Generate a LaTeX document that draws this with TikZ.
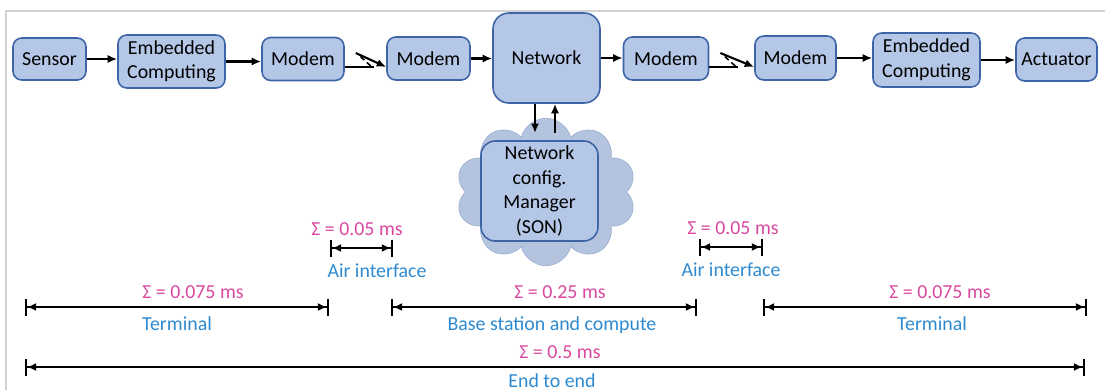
\documentclass[tikz,border=0pt]{standalone}
\usepackage{fontspec}
\setmainfont{Carlito}
\usepackage{tikz}
\usetikzlibrary{positioning, arrows.meta, shapes.symbols, calc}

\definecolor{BoxFill}{HTML}{B4C7E7}
\definecolor{BoxLine}{HTML}{3E64A8}
\definecolor{CloudFill}{HTML}{B5C4DE}
\definecolor{CloudLine}{HTML}{9EB2D4}
\definecolor{SumPink}{HTML}{D9479E}
\definecolor{WhatBlue}{HTML}{2E8AD0}

\begin{document}
\begin{tikzpicture}[
  x = 0.02cm, y = -0.02cm,
  font = \fontsize{11.3}{14}\selectfont,
  block/.style = {
    draw = BoxLine,
    fill = BoxFill,
    line width = 0.9pt,
    rounded corners = 5pt,
    align = center,
    inner sep = 2pt
  },
  link/.style = {
    -{Latex[length=1.9mm, width=1.6mm]},
    line width = 1.2pt
  },
  wire/.style = {
    line width = 1.2pt
  },
  dim/.style = {
    {Bar[width=3.4mm]Latex[length=1.8mm, width=1.6mm, sep=0pt]}-{Latex[length=1.8mm, width=1.6mm, sep=0pt]Bar[width=3.4mm]},
    line width = 1.2pt
  },
  sum/.style = {
    text = SumPink
  },
  what/.style = {
    text = WhatBlue
  },
  ]
  \useasboundingbox (0, 0) rectangle (1105, 390);

  % Frame.
  \draw[gray!35, line width = 0.9pt] (6, 390) -- (6, 11) -- (1105, 11);

  % Blocks of the chain.
  \node[block, minimum width = 1.46cm, minimum height = 0.84cm] (sen) at (49.5, 59) {Sensor};
  \node[block, minimum width = 2.14cm, minimum height = 1.06cm] (emb1) at (171.5, 61.5) {Embedded\\Computing};
  \node[block, minimum width = 1.64cm, minimum height = 0.86cm] (m1) at (303, 59) {Modem};
  \node[block, minimum width = 1.66cm, minimum height = 0.86cm] (m2) at (428.5, 58.5) {Modem};
  \node[block, minimum width = 2.14cm, minimum height = 1.8cm, rounded corners = 9pt] (net) at (546.5, 58) {Network};
  \node[block, minimum width = 1.7cm, minimum height = 0.86cm] (m3) at (666, 58.5) {Modem};
  \node[block, minimum width = 1.62cm, minimum height = 0.88cm] (m4) at (795.5, 58) {Modem};
  \node[block, minimum width = 2.14cm, minimum height = 1.08cm] (emb2) at (926.5, 60) {Embedded\\Computing};
  \node[block, minimum width = 1.62cm, minimum height = 0.86cm] (act) at (1056.5, 59.5) {Actuator};

  % Self-organising network manager.
  \node[cloud, cloud puffs = 10, aspect = 1.25, draw = CloudLine, fill = CloudFill,
    minimum width = 3.6cm, minimum height = 2.95cm] (cld) at (546, 192) {};
  \node[block, minimum width = 2.34cm, minimum height = 2cm, rounded corners = 8pt] (son) at (539.5, 191)
    {Network\\config.\\Manager\\(SON)};

  % Wired links.
  \foreach \source/\dest in {sen/emb1, emb1/m1, m2/net, net/m3, m4/emb2, emb2/act} {
    \draw[link] (\source.east) -- (\source.east -| \dest.west);
  }

  % Air links.
  \foreach \source/\dest in {m1/m2, m3/m4} {
    \draw[wire] (\source.east |- 0, 67) -- ++(29, 0) coordinate (\source-low);
    \draw[wire, densely dashed, line width = 0.9pt] ($(\source-low) + (-3, -1)$) -- ++(-11, -10);
    \draw[link] ($(\source-low) + (-18, -14)$) -- (\source-low -| \dest.west);
  }

  % Links to the manager.
  \coordinate (dn) at (535, 133);
  \coordinate (up) at (555, 133);
  \draw[link] (net.south -| dn) -- (dn);
  \draw[link] (up) -- (net.south -| up);

  % Latency budget.
  \coordinate (ai1a) at (330, 248);
  \coordinate (ai1b) at (393, 248);
  \coordinate (ai2a) at (699, 247);
  \coordinate (ai2b) at (763, 247);
  \coordinate (t1a) at (25, 307);
  \coordinate (t1b) at (329, 307);
  \coordinate (bsa) at (391, 307);
  \coordinate (bsb) at (697, 307);
  \coordinate (t2a) at (763, 307);
  \coordinate (t2b) at (1087, 307);
  \coordinate (e2ea) at (25, 367);
  \coordinate (e2eb) at (1085, 367);

  \draw[dim] (ai1a) -- node[sum, above = 3pt, xshift = -0.09cm] {Σ = 0.05 ms}
    node[what, below = 5pt, xshift = 0.31cm] {Air interface} (ai1b);
  \draw[dim] (ai2a) -- node[sum, above = 3pt, xshift = 0.04cm] {Σ = 0.05 ms}
    node[what, below = 5pt] {Air interface} (ai2b);
  \draw[dim] (t1a) -- node[sum, above = 1pt, xshift = 0.32cm] {Σ = 0.075 ms}
    node[what, below = 1.5pt] {Terminal} (t1b);
  \draw[dim] (bsa) -- node[sum, above = 1pt, xshift = 0.32cm] {Σ = 0.25 ms}
    node[what, below = 1.5pt, xshift = 0.16cm] {Base station and compute} (bsb);
  \draw[dim] (t2a) -- node[sum, above = 1pt, xshift = 0.3cm] {Σ = 0.075 ms}
    node[what, below = 1.5pt, xshift = 0.14cm] {Terminal} (t2b);
  \draw[dim] (e2ea) -- node[sum, above = 1pt, xshift = 0.1cm] {Σ = 0.5 ms}
    node[what, below = 2pt, inner sep = 1pt, xshift = -0.06cm] {End to end} (e2eb);
\end{tikzpicture}
\end{document}
